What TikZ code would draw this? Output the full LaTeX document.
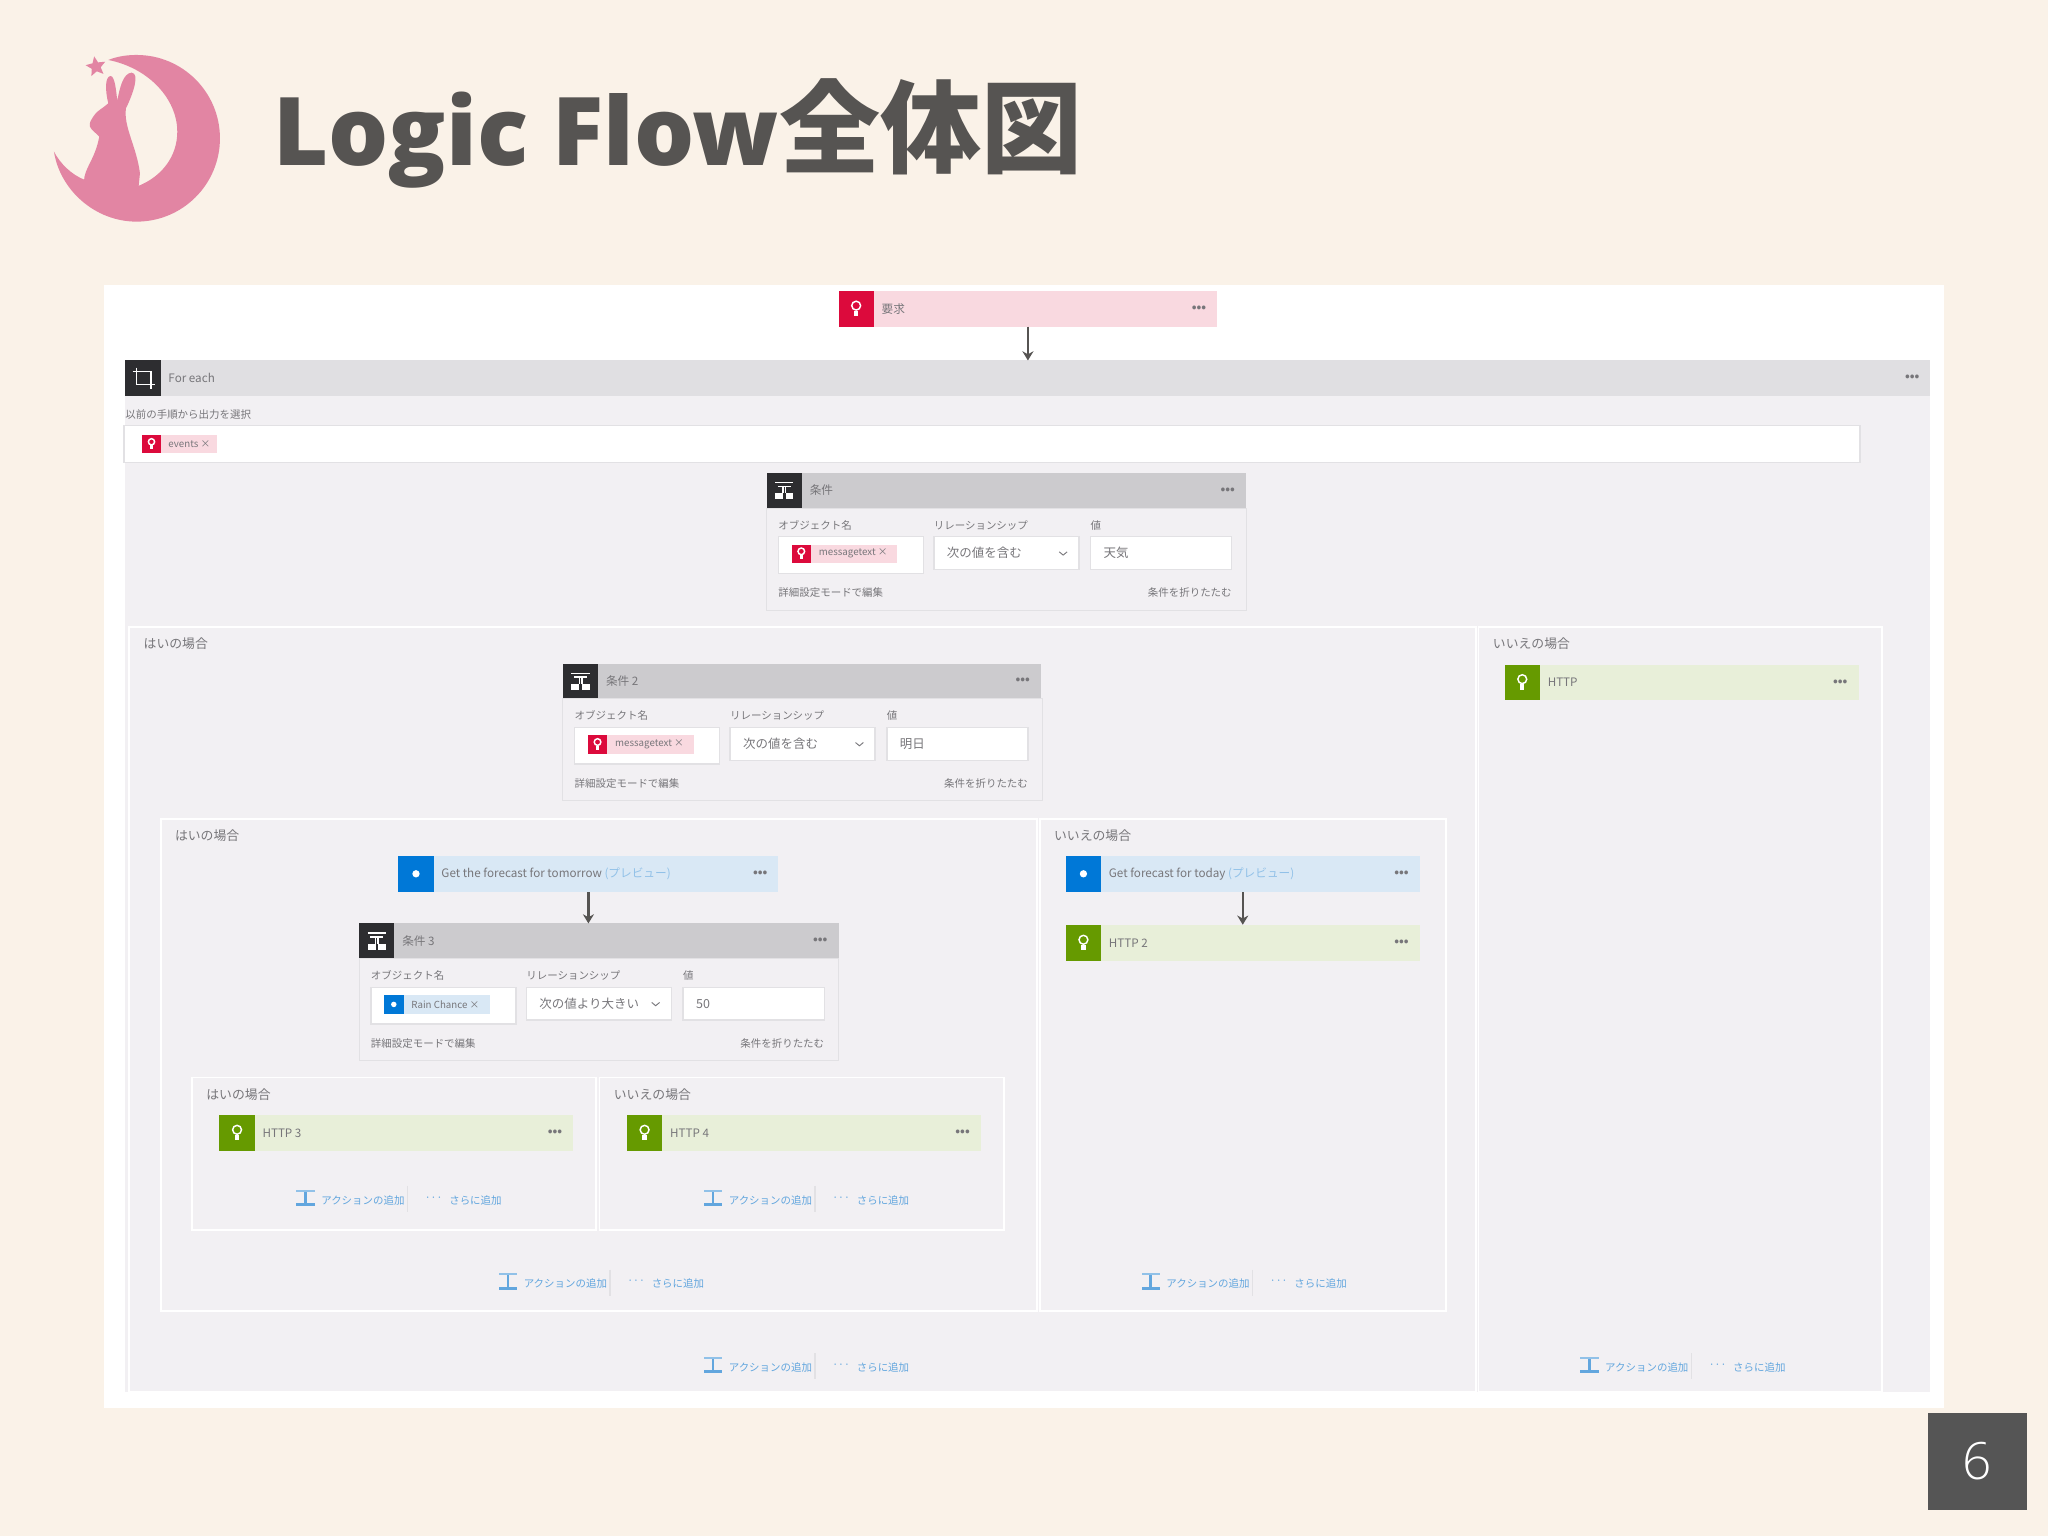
\documentclass[tikz,border=0pt]{standalone}
\usepackage{fontspec}
\setmainfont{Noto Sans CJK JP}
\newfontfamily\titlelatin{Open Sans Bold}
\newfontfamily\pagefont{Open Sans Light}
\usetikzlibrary{calc,arrows.meta,shapes.geometric}

\definecolor{slidebg}{HTML}{FAF2E8}
\definecolor{logopink}{HTML}{E285A3}
\definecolor{titlegray}{HTML}{565452}
\definecolor{pagegray}{HTML}{555555}
\definecolor{crimson}{HTML}{DC0A3C}
\definecolor{blush}{HTML}{F9D9E0}
\definecolor{coal}{HTML}{2D2D30}
\definecolor{loopbar}{HTML}{E0DFE2}
\definecolor{condbar}{HTML}{CCCBCE}
\definecolor{bodygray}{HTML}{F2F0F3}
\definecolor{skyblue}{HTML}{0078D7}
\definecolor{skybar}{HTML}{D9E8F5}
\definecolor{leaf}{HTML}{669A00}
\definecolor{leafbar}{HTML}{E8EFD9}
\definecolor{linkblue}{HTML}{62A6DE}
\definecolor{softtext}{HTML}{77767A}
\definecolor{edgegray}{HTML}{E2E1E4}

\def\pu{0.025cm}
\def\glyphscale{1}

\tikzset{
	flowarrow/.style={line width=1.3pt, color=titlegray, -{Stealth[length=5pt,width=6pt]}},
	smalltext/.style={inner sep=0, outer sep=0, text=softtext, font=\fontsize{6.8}{8}\selectfont},
	cardtext/.style={smalltext, font=\fontsize{6.35}{8}\selectfont},
	fieldtext/.style={smalltext, font=\fontsize{5.7}{7}\selectfont},
	chiptext/.style={smalltext, font=\fontsize{5.3}{6}\selectfont},
	linktext/.style={inner sep=0, outer sep=0, text=linkblue, font=\fontsize{5.7}{7}\selectfont},
	moredots/.style={inner sep=0, outer sep=0, text=softtext, font=\fontsize{6.5}{8}\selectfont\bfseries},
	branchbox/.style={fill=bodygray, draw=white, line width=1pt},
	fieldbox/.style={fill=white, draw=edgegray, line width=0.7pt},
	bodybox/.style={fill=bodygray, draw=edgegray, line width=0.5pt},
}

\def\flowbox[#1](#2)(#3,#4)(#5,#6){\node[#1, anchor=north west, inner sep=0, outer sep=0, minimum width={(#5-(#3))*\pu}, minimum height={(#6-(#4))*\pu}] (#2) at ({#3},{#4}) {};}

\def\lampicon#1{\begin{scope}[shift={(#1.center)}, scale=\glyphscale]
	\draw[white, line width=0.8pt] (0,-2.5) circle (3.4);
	\fill[white] (-1.6,1.5) rectangle (1.6,5.5);
\end{scope}}
\def\dotglyph#1{\begin{scope}[shift={(#1.center)}, scale=\glyphscale]
	\fill[white] (0,0) circle (2.8);
\end{scope}}
\def\condicon#1{\begin{scope}[shift={(#1.center)}]
	\draw[white, line width=0.8pt] (-7,-6) -- (7,-6) (-5,-3) -- (5,-3) (-1,-3) -- (-1,2) (1,-3) -- (1,2);
	\fill[white] (-7,2) rectangle (-1,6.5);
	\fill[white] (1,2) rectangle (7,6.5);
\end{scope}}
\def\loopicon#1{\begin{scope}[shift={(#1.center)}]
	\draw[white, line width=0.9pt] (-5,-8) -- (-5,5) -- (9,5) (-8,-5) -- (6,-5) -- (6,8);
\end{scope}}

\def\flowcard[#1][#2](#3)(#4,#5)(#6,#7)#8#9{%
	\flowbox[fill=#2](#3)(#4,#5)(#6,#7)
	\flowbox[fill=#1](#3icon)(#4,#5)(#4+27,#7)
	#8{#3icon}
	\node[cardtext, anchor=west] (#3label) at ({#4+33},{(#5+#7)/2}) {#9};
	\node[moredots] (#3dots) at ({#6-14},{(#5+#7)/2}) {•••};
}

\def\condfields(#1)(#2,#3)[#4][#5]#6#7#8#9{\begin{scope}[shift={(#2,#3)}]
	\def\glyphscale{0.75}
	\flowbox[bodybox](#1body)(0,0)(367,78)
	\node[fieldtext, anchor=west] (#1obj) at (9,13) {オブジェクト名};
	\node[fieldtext, anchor=west] (#1rel) at (128,13) {リレーションシップ};
	\node[fieldtext, anchor=west] (#1val) at (248,13) {値};
	\flowbox[fieldbox](#1objbox)(9,22)(120,50)
	\flowbox[fieldbox](#1relbox)(128,22)(239,47)
	\flowbox[fieldbox](#1valbox)(248,22)(356,47)
	\flowbox[fill=#5](#1chip)(34,28)(100,42)
	\flowbox[fill=#4](#1chipicon)(19,28)(34,42)
	#6{#1chipicon}
	\node[chiptext, anchor=west] (#1chiptext) at (40,35) {#7};
	\node[smalltext, anchor=west] (#1reltext) at (138,34.5) {#8};
	\draw[softtext, line width=0.5pt] (224,33.5) -- (227,36) -- (230,33.5);
	\node[smalltext, anchor=west] (#1valtext) at (258,34.5) {#9};
	\node[fieldtext, anchor=west] (#1adv) at (9,65) {詳細設定モードで編集};
	\node[fieldtext, anchor=east] (#1fold) at (356,65) {条件を折りたたむ};
\end{scope}}

\def\branch(#1)(#2,#3)(#4,#5)#6{%
	\flowbox[branchbox](#1)(#2,#3)(#4,#5)
	\node[smalltext, anchor=west, font=\fontsize{7}{8}\selectfont] (#1label) at ({#2+11},{#3+13}) {#6};
}

\def\addaction(#1)(#2,#3){\begin{scope}[shift={(#2,#3)}]
	\fill[linkblue!70] (-7,-7) rectangle (7,-5.5);
	\fill[linkblue] (-1,-5.5) rectangle (1,3);
	\fill[linkblue] (-7,3) rectangle (7,5.5);
	\node[linktext, anchor=west] (#1add) at (12,1) {アクションの追加};
	\draw[edgegray, line width=0.6pt] (78,-10) -- (78,10);
	\node[linktext, anchor=center] (#1dots) at (98,0) {···};
	\node[linktext, anchor=west] (#1more) at (110,1) {さらに追加};
\end{scope}}

\begin{document}
\begin{tikzpicture}[x=0.025cm, y=-0.025cm]
	%%%%% START %%%%%
	
	\useasboundingbox (0,0) rectangle (1568,1176);
	\fill[slidebg] (0,0) rectangle (1568,1176);
	
	% logo
	\begin{scope}[shift={(30.6,30.6)}, scale=0.2552]
		\fill[logopink] (205,60) .. controls (235,48) and (265,45) .. (290,45) .. controls (428,45) and (540,157) .. (540,295) .. controls (540,433) and (428,545) .. (290,545) .. controls (165,545) and (60,450) .. (42,335) .. controls (60,370) and (95,405) .. (135,420) -- (295,438) .. controls (365,410) and (412,350) .. (412,275) .. controls (412,180) and (330,85) .. (205,60) -- cycle;
		\fill[logopink] (132,425) .. controls (132,385) and (165,360) .. (178,290) -- (155,268) .. controls (145,258) and (150,245) .. (155,238) .. controls (170,210) and (190,205) .. (205,190) .. controls (195,150) and (195,110) .. (212,108) .. controls (225,110) and (228,150) .. (232,182) .. controls (240,140) and (250,100) .. (275,98) .. controls (300,100) and (280,160) .. (258,205) .. controls (250,260) and (290,320) .. (300,400) -- (295,450) -- cycle;
		\node[star, star points=5, star point ratio=2.2, fill=logopink, inner sep=0, minimum size={16*\pu}, rotate=10] (logostar) at (168,80) {};
	\end{scope}
	
	\node[anchor=base west, inner sep=0, text=titlegray, font=\fontsize{55}{60}\selectfont\bfseries] (slidetitle) at (209,127) {{\titlelatin\fontsize{51.6}{60}\selectfont Logic Flow}全体図};
	
	% screenshot panel
	\fill[white] (80,218) rectangle (1488,1078);
	
	\flowcard[crimson][blush](trigger)(642,223)(932,250){\lampicon}{要求}
	
	\flowbox[fill=bodygray](loopbody)(96,303)(1478,1066)
	\flowcard[coal][loopbar](loop)(96,276)(1478,303){\loopicon}{For each}
	\draw[flowarrow] (trigger) -- (loop);
	
	\node[fieldtext, anchor=west] (looppick) at (96,317) {以前の手順から出力を選択};
	\flowbox[fieldbox](loopinput)(95,326)(1424,354)
	\flowbox[fill=blush](loopchip)(123,333)(166,347)
	\flowbox[fill=crimson](loopchipicon)(109,333)(123,347)
	{\def\glyphscale{0.7}\lampicon{loopchipicon}}
	\node[chiptext, anchor=west] (loopchiptext) at (129,340) {events ×};
	
	\flowcard[coal][condbar](condone)(587,362)(954,389){\condicon}{条件}
	\condfields(condone)(587,389)[crimson][blush]{\lampicon}{messagetext ×}{次の値を含む}{天気}
	
	\branch(yesouter)(99,480)(1130,1066){はいの場合}
	\branch(noouter)(1132,480)(1441,1066){いいえの場合}
	\flowcard[leaf][leafbar](httpone)(1152,509)(1423,536){\lampicon}{HTTP}
	
	\flowcard[coal][condbar](condtwo)(431,508)(797,535){\condicon}{条件 2}
	\condfields(condtwo)(431,535)[crimson][blush]{\lampicon}{messagetext ×}{次の値を含む}{明日}
	
	\branch(yesmid)(123,627)(794,1004){はいの場合}
	\branch(nomid)(796,627)(1107,1004){いいえの場合}
	
	\flowcard[skyblue][skybar](tomorrow)(305,655)(596,683){\dotglyph}{Get the forecast for tomorrow {\color{linkblue!70}(プレビュー)}}
	\flowcard[coal][condbar](condthree)(275,707)(642,734){\condicon}{条件 3}
	\draw[flowarrow] (tomorrow.south) -- (tomorrow.south |- condthree.north);
	\condfields(condthree)(275,734)[skyblue][skybar]{\dotglyph}{Rain Chance ×}{次の値より大きい}{50}
	
	\flowcard[skyblue][skybar](today)(816,655)(1087,683){\dotglyph}{Get forecast for today {\color{linkblue!70}(プレビュー)}}
	\flowcard[leaf][leafbar](httptwo)(816,708)(1087,736){\lampicon}{HTTP 2}
	\draw[flowarrow] (today) -- (httptwo);
	
	\branch(yesinner)(147,825)(456,942){はいの場合}
	\branch(noinner)(459,825)(769,942){いいえの場合}
	\flowcard[leaf][leafbar](httpthree)(168,854)(439,881){\lampicon}{HTTP 3}
	\flowcard[leaf][leafbar](httpfour)(480,854)(751,881){\lampicon}{HTTP 4}
	
	\addaction(addone)(234,918)
	\addaction(addtwo)(546,918)
	\addaction(addthree)(389,982)
	\addaction(addfour)(881,982)
	\addaction(addfive)(546,1046)
	\addaction(addsix)(1217,1046)
	
	% page number
	\flowbox[fill=pagegray](pagebox)(1476,1082)(1552,1156)
	\node[inner sep=0, text=white, font=\pagefont\fontsize{28}{30}\selectfont] (pagenum) at (pagebox.center) {6};
	
	%%%%% END %%%%%
\end{tikzpicture}
\end{document}
